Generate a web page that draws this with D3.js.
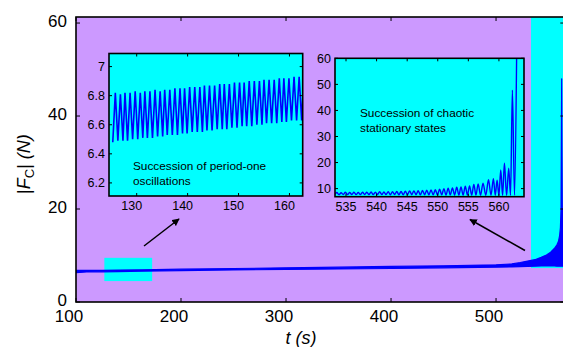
<!DOCTYPE html>
<html><head><meta charset="utf-8">
<script src="https://cdn.jsdelivr.net/npm/d3@7"></script>
<style>body{margin:0;background:#fff}svg{display:block;font-family:Arial,"Liberation Sans",sans-serif}</style>
</head><body><svg id="c" width="563" height="347"></svg>
<script>
// ---- data ----
const mainTicksX = [100,200,300,400,500];
const mainTicksY = [0,20,40,60];
const mainT    = [100,110,125,140,163,200,250,300,350,400,450,500,515,523,530,537,543,548,552,555.5,558,559.4,560.5,561.3,561.9,562.5,563.1,564.3,565];
const mainLow  = [6.3,6.45,6.48,6.55,6.63,6.75,6.9,7.0,7.1,7.2,7.35,7.5,7.55,7.6,7.65,7.7,7.75,7.75,7.75,7.75,7.7,7.7,7.7,7.7,7.7,7.7,7.7,7.7,7.7];
const mainHigh = [6.8,6.8,6.82,6.86,6.93,7.05,7.2,7.35,7.5,7.65,7.8,8.0,8.2,8.5,8.8,9.1,9.6,10.1,10.7,11.5,12.3,13.0,14.2,16.0,20,48,19,20,62];

const in1TicksX = [130,140,150,160];
const in1TicksY = [6.2,6.4,6.6,6.8,7];
const in1PeakT = [125.8,126.8,127.7,128.7,129.7,130.7,131.6,132.6,133.6,134.6,135.5,136.5,137.5,138.5,139.4,140.4,141.4,142.4,143.3,144.3,145.3,146.3,147.2,148.2,149.2,150.2,151.1,152.1,153.1,154.1,155.0,156.0,157.0,158.0,158.9,159.9,160.9,161.9,162.8];
const in1Peak  = [6.82,6.81,6.82,6.82,6.83,6.82,6.83,6.83,6.84,6.83,6.84,6.84,6.85,6.85,6.85,6.86,6.86,6.86,6.87,6.87,6.87,6.88,6.88,6.88,6.89,6.89,6.89,6.90,6.90,6.90,6.91,6.91,6.91,6.92,6.92,6.92,6.93,6.93,6.93];
const in1TrT   = [125.3,126.3,127.3,128.2,129.2,130.2,131.2,132.1,133.1,134.1,135.1,136.0,137.0,138.0,139.0,139.9,140.9,141.9,142.9,143.8,144.8,145.8,146.8,147.7,148.7,149.7,150.7,151.6,152.6,153.6,154.6,155.5,156.5,157.5,158.5,159.4,160.4,161.4,162.4];
const in1Tr    = [6.48,6.49,6.49,6.49,6.50,6.50,6.51,6.51,6.51,6.52,6.52,6.53,6.53,6.53,6.54,6.54,6.55,6.55,6.55,6.56,6.56,6.57,6.57,6.57,6.58,6.58,6.59,6.59,6.59,6.60,6.60,6.61,6.61,6.61,6.62,6.62,6.63,6.63,6.63];

const in2TicksX = [535,540,545,550,555,560];
const in2TicksY = [10,20,30,40,50,60];
const in2PeakT = [533.5,534.2,534.9,535.6,536.3,537.0,537.7,538.4,539.1,539.8,540.5,541.2,541.9,542.6,543.3,544.0,544.7,545.4,546.1,546.8,547.5,548.2,548.9,549.6,550.3,551.0,551.7,552.4,553.1,553.8,554.5,555.2,555.9,556.6,557.4,558.3,559.1,559.7,560.3,560.9,561.6,562.2,562.9];
const in2Peak  = [8.5,8.4,8.6,8.5,8.6,8.5,8.6,8.6,8.7,8.6,8.8,8.7,8.8,8.8,8.9,8.9,9.0,9.1,9.1,9.2,9.3,9.4,9.5,9.6,9.8,10.0,10.2,10.3,10.5,10.6,10.9,11.0,11.6,11.8,12.1,13.4,13.8,13.2,17.2,19.8,17.8,47.8,62];
const in2TrT   = [533.2,533.85,534.55,535.25,535.95,536.65,537.35,538.05,538.75,539.45,540.15,540.85,541.55,542.25,542.95,543.65,544.35,545.05,545.75,546.45,547.15,547.85,548.55,549.25,549.95,550.65,551.35,552.05,552.75,553.45,554.15,554.85,555.55,556.25,557.0,557.85,558.7,559.4,560.0,560.6,561.25,561.9,562.55];
const in2Tr    = [7.8,7.7,7.75,7.7,7.75,7.7,7.7,7.75,7.7,7.7,7.7,7.7,7.7,7.65,7.7,7.65,7.65,7.7,7.65,7.65,7.6,7.65,7.6,7.6,7.6,7.6,7.55,7.6,7.55,7.55,7.5,7.55,7.5,7.5,7.5,7.45,7.45,7.45,7.4,7.4,7.4,7.4,7.4];

// ---- drawing ----
const svg = d3.select("#c");
const PURPLE = "#cc99ff", CYAN = "#00ffff", BLUE = "#0000ff";
const M = {l:76, r:564.3, t:17, b:302};
const x = d3.scaleLinear().domain([100,565]).range([M.l, M.r]);
const y = d3.scaleLinear().domain([0,61.3]).range([M.b, M.t]);

const defs = svg.append("defs");
function clip(id, x0, y0, w, h){ defs.append("clipPath").attr("id",id).append("rect").attr("x",x0).attr("y",y0).attr("width",w).attr("height",h); }
clip("cm", M.l, M.t, M.r-M.l, M.b-M.t);

svg.append("rect").attr("x",M.l).attr("y",M.t).attr("width",M.r-M.l).attr("height",M.b-M.t).attr("fill",PURPLE);
const gm = svg.append("g").attr("clip-path","url(#cm)");
gm.append("rect").attr("x",x(127)).attr("y",y(9.5)).attr("width",x(172.5)-x(127)).attr("height",y(4.5)-y(9.5)).attr("fill",CYAN);
gm.append("rect").attr("x",x(533.3)).attr("y",M.t).attr("width",M.r-x(533.3)+5).attr("height",y(7.3)-M.t).attr("fill",CYAN);
const mainData = mainT.map((t,i)=>({t, lo:mainLow[i], hi:mainHigh[i]}));
gm.append("path").datum(mainData)
  .attr("d", d3.area().x(d=>x(d.t)).y0(d=>y(d.lo)).y1(d=>y(d.hi)))
  .attr("fill",BLUE).attr("stroke",BLUE).attr("stroke-width",1.2).attr("stroke-linejoin","round");

function axes(g, xs, ys, xt, yt, tl, fs, xfmt, yfmt, box){
  const [x0,x1] = xs.range(), [y0,y1] = ys.range();
  xt.forEach(v=>{
    g.append("line").attr("x1",xs(v)).attr("x2",xs(v)).attr("y1",y0).attr("y2",y0-tl).attr("stroke","#000");
    g.append("line").attr("x1",xs(v)).attr("x2",xs(v)).attr("y1",y1).attr("y2",y1+tl).attr("stroke","#000");
    g.append("text").attr("x",xs(v)+box.xdx).attr("y",y0+box.xlab).attr("text-anchor","middle").attr("font-size",fs).text(xfmt(v));
  });
  yt.forEach(v=>{
    g.append("line").attr("x1",x0).attr("x2",x0+tl).attr("y1",ys(v)).attr("y2",ys(v)).attr("stroke","#000");
    g.append("line").attr("x1",x1).attr("x2",x1-tl).attr("y1",ys(v)).attr("y2",ys(v)).attr("stroke","#000");
    g.append("text").attr("x",x0-box.ylab).attr("y",ys(v)+box.ydy).attr("dy","0.36em").attr("text-anchor","end").attr("font-size",fs).text(yfmt(v));
  });
  g.append("rect").attr("x",x0).attr("y",y1).attr("width",x1-x0).attr("height",y0-y1).attr("fill","none").attr("stroke","#000").attr("stroke-width",1.6);
}
axes(svg.append("g"), x, y, mainTicksX, mainTicksY, 4, 17, d3.format("d"), d3.format("d"), {xlab:20, ylab:9, xdx:-7, ydy:-2});

// inset 1
const x1s = d3.scaleLinear().domain([124.56,162.6]).range([109,302.7]);
const y1s = d3.scaleLinear().domain([6.11,7.09]).range([196,53.5]);
clip("c1",109,53.5,302.7-109,196-53.5);
svg.append("rect").attr("x",109).attr("y",53.5).attr("width",302.7-109).attr("height",196-53.5).attr("fill",CYAN);
const z1 = [];
in1TrT.forEach((t,i)=>{ z1.push([t,in1Tr[i]]); z1.push([in1PeakT[i],in1Peak[i]]); });
svg.append("g").attr("clip-path","url(#c1)").append("path").datum(z1)
  .attr("d", d3.line().x(d=>x1s(d[0])).y(d=>y1s(d[1])))
  .attr("fill","none").attr("stroke",BLUE).attr("stroke-width",1.6);
axes(svg.append("g"), x1s, y1s, in1TicksX, in1TicksY, 3, 12.5, d3.format("d"), v=>v===7?"7":d3.format(".1f")(v), {xlab:14, ylab:4, xdx:-5, ydy:0});
svg.append("text").attr("x",133).attr("y",170).attr("font-size",11.8).text("Succession of period-one");
svg.append("text").attr("x",133).attr("y",184.5).attr("font-size",11.8).text("oscillations");

// inset 2
const x2s = d3.scaleLinear().domain([533.2,564.1]).range([335,524]);
const y2s = d3.scaleLinear().domain([6.9,60]).range([196.7,58.3]);
clip("c2",335,58.3,524-335,196.7-58.3);
svg.append("rect").attr("x",335).attr("y",58.3).attr("width",524-335).attr("height",196.7-58.3).attr("fill",CYAN);
const z2 = [];
in2TrT.forEach((t,i)=>{ z2.push([t,in2Tr[i]]); z2.push([in2PeakT[i],in2Peak[i]]); });
svg.append("g").attr("clip-path","url(#c2)").append("path").datum(z2)
  .attr("d", d3.line().x(d=>x2s(d[0])).y(d=>y2s(d[1])).curve(d3.curveMonotoneX))
  .attr("fill","none").attr("stroke",BLUE).attr("stroke-width",1.4);
axes(svg.append("g"), x2s, y2s, in2TicksX, in2TicksY, 3, 12.5, d3.format("d"), d3.format("d"), {xlab:14, ylab:4, xdx:0, ydy:0});
svg.append("text").attr("x",360).attr("y",116.5).attr("font-size",11.8).text("Succession of chaotic");
svg.append("text").attr("x",360).attr("y",132).attr("font-size",11.8).text("stationary states");

// arrows
defs.append("marker").attr("id","ah").attr("viewBox","0 0 10 10").attr("refX",9).attr("refY",5)
  .attr("markerWidth",5).attr("markerHeight",5).attr("orient","auto")
  .append("path").attr("d","M0,0L10,5L0,10z").attr("fill","#000");
svg.append("line").attr("x1",144).attr("y1",246).attr("x2",179).attr("y2",219).attr("stroke","#000").attr("stroke-width",1.5).attr("marker-end","url(#ah)");
svg.append("line").attr("x1",525).attr("y1",250.5).attr("x2",470).attr("y2",219.5).attr("stroke","#000").attr("stroke-width",1.5).attr("marker-end","url(#ah)");

// axis titles
svg.append("text").attr("x",301).attr("y",344).attr("text-anchor","middle").attr("font-size",18).attr("font-style","italic").text("t (s)");
const yl = svg.append("text").attr("transform","translate(30,164) rotate(-90)").attr("text-anchor","middle").attr("font-size",18);
yl.append("tspan").text("|");
yl.append("tspan").attr("font-style","italic").text("F");
yl.append("tspan").attr("font-size",13).attr("dy",4).text("C");
yl.append("tspan").attr("dy",-4).text("| ");
yl.append("tspan").attr("font-style","italic").text("(N)");
</script></body></html>
